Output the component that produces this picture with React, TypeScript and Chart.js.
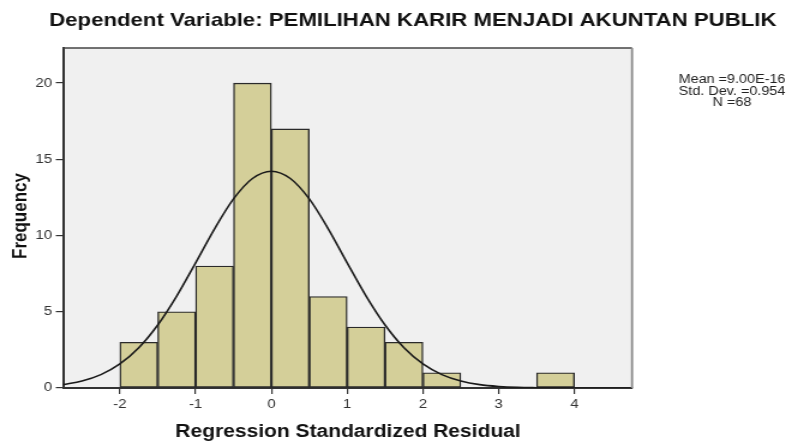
import React, { useEffect, useRef } from 'react';
import { Chart, registerables } from 'chart.js';

Chart.register(...registerables);

// ---- data ----
const binCenters = [-1.75, -1.25, -0.75, -0.25, 0.25, 0.75, 1.25, 1.75, 2.25, 3.75];
const frequencies = [3, 5, 8, 20, 17, 6, 4, 3, 1, 1];

const curveX = [-2.75, -2.5, -2.25, -2, -1.75, -1.5, -1.25, -1, -0.75, -0.5, -0.25, 0, 0.25, 0.5, 0.75, 1, 1.25, 1.5, 1.75, 2, 2.25, 2.5, 2.75, 3, 3.25, 3.5, 3.75, 4, 4.25, 4.5, 4.75];
const curveY = [0.22, 0.46, 0.88, 1.58, 2.64, 4.13, 6.03, 8.21, 10.44, 12.4, 13.74, 14.22, 13.74, 12.4, 10.44, 8.21, 6.03, 4.13, 2.64, 1.58, 0.88, 0.46, 0.22, 0.1, 0.04, 0.02, 0.01, 0, 0, 0, 0];

const xTickValues = [-2, -1, 0, 1, 2, 3, 4];
const yTickValues = [0, 5, 10, 15, 20];

const titleText = 'Dependent Variable: PEMILIHAN KARIR MENJADI AKUNTAN PUBLIK';
const xTitle = 'Regression Standardized Residual';
const yTitle = 'Frequency';
const statLines = ['Mean =9.00E-16', 'Std. Dev. =0.954', 'N =68'];

const FONT = '"Liberation Sans", Arial, sans-serif';
const W = 660;
const H = 444;

const decor = {
  id: 'decor',
  beforeDraw(chart: any) {
    const { ctx, chartArea: a } = chart;
    ctx.save();
    ctx.fillStyle = '#ffffff';
    ctx.fillRect(0, 0, chart.width, chart.height);
    ctx.fillStyle = '#f0f0f0';
    ctx.fillRect(a.left, a.top, a.right - a.left, a.bottom - a.top);
    ctx.restore();
  },
  afterDraw(chart: any) {
    const { ctx, chartArea: a } = chart;
    ctx.save();
    ctx.strokeStyle = '#444';
    ctx.lineWidth = 1.5;
    ctx.beginPath();
    ctx.moveTo(a.left, a.top);
    ctx.lineTo(a.right, a.top);
    ctx.stroke();
    ctx.strokeStyle = '#8a8a8a';
    ctx.lineWidth = 1.8;
    ctx.beginPath();
    ctx.moveTo(a.right, a.top);
    ctx.lineTo(a.right, a.bottom);
    ctx.stroke();

    ctx.fillStyle = '#111';
    ctx.textAlign = 'center';
    ctx.textBaseline = 'alphabetic';
    ctx.font = `bold 18.5px ${FONT}`;
    ctx.fillText(titleText, 344, 26);
    ctx.font = `bold 17.5px ${FONT}`;
    ctx.fillText(xTitle, 290, 437);
    ctx.save();
    ctx.font = `bold 17px ${FONT}`;
    ctx.translate(22.2, 216);
    ctx.rotate(-Math.PI / 2);
    ctx.fillText(yTitle, 0, 0);
    ctx.restore();
    ctx.fillStyle = '#222';
    ctx.font = `12px ${FONT}`;
    statLines.forEach((t, i) => ctx.fillText(t, 610, 83 + i * 11.5));
    ctx.restore();
  },
};

export default function App() {
  const ref = useRef<HTMLCanvasElement>(null);
  useEffect(() => {
    if (!ref.current) return;
    const chart = new Chart(ref.current, {
      type: 'bar',
      data: {
        datasets: [
          {
            type: 'line',
            data: curveX.map((x, i) => ({ x, y: curveY[i] })),
            borderColor: '#1a1a1a',
            borderWidth: 1.6,
            pointRadius: 0,
            cubicInterpolationMode: 'monotone',
            fill: false,
            order: 0,
          } as any,
          {
            type: 'bar',
            data: binCenters.map((x, i) => ({ x, y: frequencies[i] })),
            backgroundColor: '#d4cf99',
            borderColor: '#2a2a2a',
            borderWidth: 1.4,
            borderSkipped: false,
            barPercentage: 1,
            categoryPercentage: 1,
            order: 1,
          } as any,
        ],
      },
      options: {
        responsive: false,
        animation: false,
        layout: { padding: { left: 0, top: 48, right: W - 526.7, bottom: 0 } },
        plugins: { legend: { display: false }, tooltip: { enabled: false }, title: { display: false } },
        scales: {
          x: {
            type: 'linear',
            offset: false,
            min: -2.75,
            max: 4.76,
            afterBuildTicks: (s: any) => {
              s.ticks = xTickValues.map((v) => ({ value: v }));
            },
            afterFit: (s: any) => {
              s.height = H - 388;
            },
            ticks: { font: { family: FONT, size: 12.5 }, color: '#333', padding: 3, maxRotation: 0, autoSkip: false },
            grid: { display: true, offset: false, drawOnChartArea: false, drawTicks: true, tickLength: 6, color: '#333', lineWidth: 1.2 },
            border: { display: true, color: '#333', width: 2 },
          },
          y: {
            type: 'linear',
            min: 0,
            max: 22.3,
            afterBuildTicks: (s: any) => {
              s.ticks = yTickValues.map((v) => ({ value: v }));
            },
            afterFit: (s: any) => {
              s.width = 52.5;
            },
            ticks: { font: { family: FONT, size: 12.5 }, color: '#333', padding: 3, autoSkip: false },
            grid: { display: true, drawOnChartArea: false, drawTicks: true, tickLength: 6, color: '#333', lineWidth: 1.2 },
            border: { display: true, color: '#333', width: 2 },
          },
        },
      },
      plugins: [decor],
    } as any);
    return () => chart.destroy();
  }, []);
  return (
    <div style={{ position: 'absolute', left: 0, top: 0, width: 792, height: 444, overflow: 'hidden', background: '#fff' }}>
      <canvas
        ref={ref}
        width={W}
        height={H}
        style={{ display: 'block', width: W, height: H, transform: 'scale(1.2, 1)', transformOrigin: '0 0' }}
      />
    </div>
  );
}
